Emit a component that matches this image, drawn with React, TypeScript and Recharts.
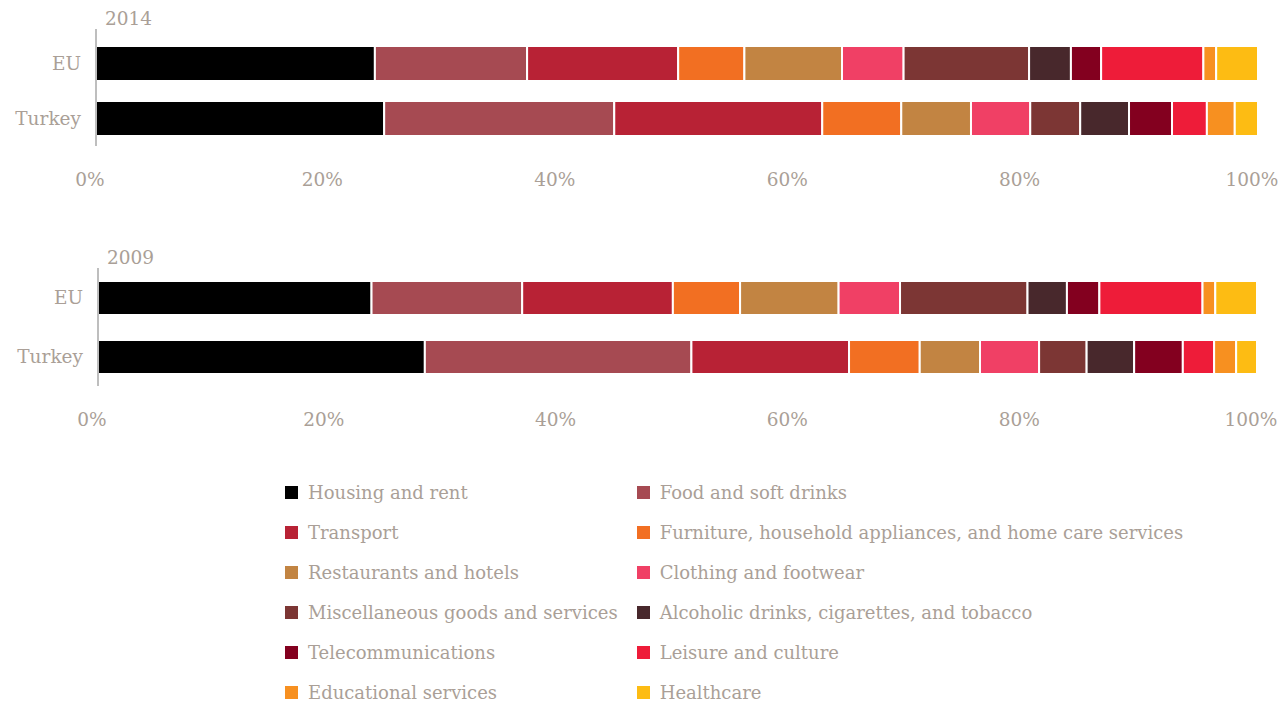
import { BarChart, Bar, XAxis, YAxis } from "recharts";

const regions = ["EU", "Turkey"];

const categories = [
  "Housing and rent",
  "Food and soft drinks",
  "Transport",
  "Furniture, household appliances, and home care services",
  "Restaurants and hotels",
  "Clothing and footwear",
  "Miscellaneous goods and services",
  "Alcoholic drinks, cigarettes, and tobacco",
  "Telecommunications",
  "Leisure and culture",
  "Educational services",
  "Healthcare",
];

const COLORS = [
  "#000000",
  "#a64a52",
  "#b82235",
  "#f26f22",
  "#c28442",
  "#f04065",
  "#7c3634",
  "#48282c",
  "#83001f",
  "#ee1c39",
  "#f79020",
  "#fdbc13",
];

// shares in %, same order as categories
const eu2014 = [24.0, 13.1, 13.0, 5.7, 8.4, 5.3, 10.8, 3.6, 2.6, 8.8, 1.1, 3.6];
const turkey2014 = [24.8, 19.8, 17.9, 6.8, 6.0, 5.1, 4.3, 4.2, 3.7, 3.0, 2.4, 2.0];
const eu2009 = [23.6, 13.0, 13.0, 5.8, 8.5, 5.3, 11.0, 3.4, 2.8, 8.9, 1.1, 3.6];
const turkey2009 = [28.2, 23.0, 13.6, 6.1, 5.2, 5.1, 4.1, 4.1, 4.2, 2.7, 1.9, 1.8];

const xTicks = [0, 20, 40, 60, 80, 100];

const FONT = "'DejaVu Serif', serif";
const TEXT = "#aa9f97";

function buildRows(series: number[][]) {
  return regions.map((name, i) => {
    const row: Record<string, string | number> = { name };
    categories.forEach((c, j) => {
      row[c] = series[i][j];
    });
    return row;
  });
}

type PanelProps = {
  top: number;
  title: string;
  titleLeft: number;
  data: Record<string, string | number>[];
  axisWidth: number;
  rightMargin: number;
  height: number;
  barSize: number;
  padTop: number;
};

function Panel({ top, title, titleLeft, data, axisWidth, rightMargin, height, barSize, padTop }: PanelProps) {
  return (
    <div style={{ position: "absolute", left: 0, top }}>
      <div
        style={{
          position: "absolute",
          left: titleLeft,
          top: 8,
          fontFamily: FONT,
          fontSize: 18.5,
          lineHeight: "21px",
          color: TEXT,
        }}
      >
        {title}
      </div>
      <BarChart
        width={1286}
        height={height}
        data={data}
        layout="vertical"
        margin={{ top: 29, right: rightMargin, bottom: 10, left: 0 }}
      >
        <XAxis
          type="number"
          domain={[0, 100]}
          ticks={xTicks}
          tickFormatter={(v) => `${v}%`}
          axisLine={false}
          tickLine={false}
          height={44}
          tickMargin={21}
          tick={{ fill: TEXT, fontSize: 18.5, fontFamily: FONT, dx: -6 }}
        />
        <YAxis
          type="category"
          dataKey="name"
          width={axisWidth}
          padding={{ top: padTop, bottom: 0 }}
          axisLine={{ stroke: "#a9a9a9", strokeWidth: 1.5 }}
          tickLine={false}
          tickSize={0}
          tickMargin={15}
          tick={{ fill: TEXT, fontSize: 18.5, fontFamily: FONT }}
        />
        {categories.map((c, i) => (
          <Bar
            key={c}
            dataKey={c}
            stackId="a"
            fill={COLORS[i]}
            stroke="#ffffff"
            strokeWidth={2}
            barSize={barSize}
            isAnimationActive={false}
          />
        ))}
      </BarChart>
    </div>
  );
}

export default function App() {
  return (
    <div style={{ position: "absolute", left: 0, top: 0, width: 1286, height: 705, background: "#fff" }}>
      <Panel
        top={0}
        title="2014"
        titleLeft={105}
        data={buildRows([eu2014, turkey2014])}
        axisWidth={96}
        rightMargin={28}
        height={200}
        barSize={35}
        padTop={7}
      />
      <Panel
        top={239}
        title="2009"
        titleLeft={107}
        data={buildRows([eu2009, turkey2009])}
        axisWidth={98}
        rightMargin={29}
        height={201}
        barSize={34}
        padTop={0}
      />
      <div
        style={{
          position: "absolute",
          left: 285,
          top: 472,
          display: "grid",
          gridTemplateColumns: "351.7px auto",
          fontFamily: FONT,
          fontSize: 18,
          lineHeight: "21px",
          color: TEXT,
        }}
      >
        {categories.map((c, i) => (
          <div key={c} style={{ display: "flex", alignItems: "center", height: 40, whiteSpace: "nowrap" }}>
            <span style={{ width: 13, height: 13, background: COLORS[i], marginRight: 10, flexShrink: 0 }} />
            <span>{c}</span>
          </div>
        ))}
      </div>
    </div>
  );
}
